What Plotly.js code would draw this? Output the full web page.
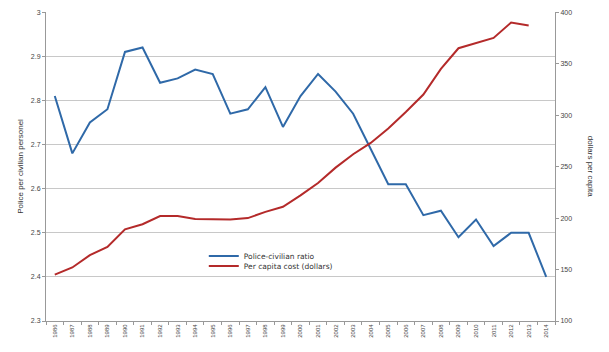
<!DOCTYPE html>
<html><head><meta charset="utf-8">
<script src="https://cdn.plot.ly/plotly-3.0.1.min.js"></script>
<style>html,body{margin:0;padding:0;background:#fff;}#chart{width:609px;height:352px;}</style>
</head><body><div id="chart"></div>
<script>
var years = ["1986","1987","1988","1989","1990","1991","1992","1993","1994","1995","1996","1997","1998","1999","2000","2001","2002","2003","2004","2005","2006","2007","2008","2009","2010","2011","2012","2013","2014"];
var policeRatio = [2.81,2.68,2.75,2.78,2.91,2.92,2.84,2.85,2.87,2.86,2.77,2.78,2.83,2.74,2.81,2.86,2.82,2.77,2.69,2.61,2.61,2.54,2.55,2.49,2.53,2.47,2.50,2.50,2.40];
var costYears = years.slice(0,28);
var perCapitaCost = [145,152,164,172,189,194,202,202,199,198.5,198.5,200,206,211,222,234,249,262,273,287,303,320,345,365,370,375,390,387];
var leftTickVals = [2.3,2.4,2.5,2.6,2.7,2.8,2.9,3.0];
var leftTickText = ["2.3","2.4","2.5","2.6","2.7","2.8","2.9","3"];

var traces = [
  {x: years, y: policeRatio, type:"scatter", mode:"lines", name:"Police-civilian ratio",
   line:{color:"#2f69a8", width:2}, yaxis:"y", legend:"legend"},
  {x: costYears, y: perCapitaCost, type:"scatter", mode:"lines", name:"Per capita cost (dollars)",
   line:{color:"#b42a2a", width:2}, yaxis:"y2", legend:"legend2"}
];
var tickFont = {family:"Liberation Sans, Arial, sans-serif", size:7, color:"#444"};
var legFont = {family:"DejaVu Sans, sans-serif", size:7.5, color:"#333"};
var layout = {
  width:609, height:352,
  margin:{l:46, r:54, t:12, b:31},
  paper_bgcolor:"#fff", plot_bgcolor:"#fff",
  showlegend:true,
  legend:{x:0.31, y:0.21, xanchor:"left", yanchor:"middle", bgcolor:"rgba(0,0,0,0)", font:legFont, itemwidth:30},
  legend2:{x:0.31, y:0.178, xanchor:"left", yanchor:"middle", bgcolor:"rgba(0,0,0,0)", font:legFont, itemwidth:30},
  xaxis:{type:"category", range:[-0.5,28.5], tickson:"boundaries", ticks:"outside", ticklen:3,
    tickcolor:"#999", showline:true, linecolor:"#999", linewidth:1, showgrid:false,
    tickangle:-90, tickfont:{family:"Liberation Sans, Arial, sans-serif", size:6, color:"#444"}},
  yaxis:{range:[2.3,3.0005], tickmode:"array", tickvals:leftTickVals, ticktext:leftTickText, ticks:"outside", ticklen:3, tickcolor:"#999",
    showline:true, linecolor:"#999", showgrid:true, gridcolor:"#c8c8c8", gridwidth:1, zeroline:false,
    tickfont:tickFont,
    title:{text:"Police per civilian personel", font:{family:"Liberation Sans, Arial, sans-serif", size:8, color:"#333"}, standoff:6}},
  yaxis2:{range:[100,400.2], dtick:50, overlaying:"y", side:"right", ticks:"outside", ticklen:3, tickcolor:"#999",
    showline:true, linecolor:"#999", showgrid:false, zeroline:false, tickfont:tickFont},
  annotations:[{text:"dollars per capita", xref:"paper", yref:"paper", x:1.07, y:0.5, xanchor:"center", yanchor:"middle",
    textangle:90, showarrow:false, font:{family:"Liberation Sans, Arial, sans-serif", size:8, color:"#333"}}]
};
Plotly.newPlot("chart", traces, layout, {displayModeBar:false, staticPlot:true});
</script></body></html>
